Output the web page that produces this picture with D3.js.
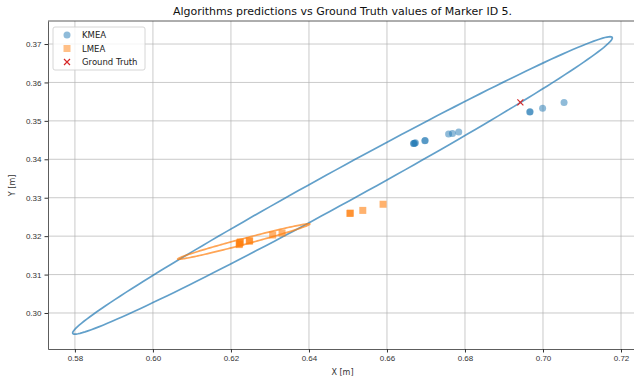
<!DOCTYPE html>
<html>
<head>
<meta charset="utf-8">
<script src="https://cdn.jsdelivr.net/npm/d3@7"></script>
<style>
  body { margin: 0; background: #fff; }
  svg { font-family: "DejaVu Sans", sans-serif; }
  .tick text { fill: #333; font-size: 8px; }
  .tick line { stroke: #333; }
</style>
</head>
<body>
<div id="chart"></div>
<script>
// KMEA predictions (x, y)
const kmeaX = [0.6966, 0.6967, 0.6999, 0.7054, 0.6668, 0.6669, 0.6671, 0.6673, 0.6697, 0.6698, 0.6758, 0.6768, 0.6784];
const kmeaY = [0.3523, 0.3524, 0.3533, 0.3548, 0.3441, 0.3441, 0.3442, 0.3443, 0.3448, 0.3449, 0.3466, 0.3467, 0.3471];
// LMEA predictions (x, y)
const lmeaX = [0.6505, 0.6506, 0.6538, 0.6590, 0.6307, 0.6331, 0.6222, 0.6223, 0.6224, 0.6221, 0.6247, 0.6248];
const lmeaY = [0.3259, 0.3260, 0.3267, 0.3283, 0.3203, 0.3208, 0.3180, 0.3183, 0.3185, 0.3178, 0.3187, 0.3188];
// ground truth
const truthX = [0.6942];
const truthY = [0.3548];
// confidence ellipses: center, half major axis, conjugate half axis (data units)
const ellipseNames = ["KMEA", "LMEA"];
const ellipseCenter = [[0.6486, 0.3332], [0.6233, 0.3186]];
const ellipseMajor = [[0.0686, 0.0387], [0.01695, 0.00455]];
const ellipseMinor = [[0.0089, 0], [0, 0.0008]];

const xTicks = [0.58, 0.60, 0.62, 0.64, 0.66, 0.68, 0.70, 0.72];
const yTicks = [0.30, 0.31, 0.32, 0.33, 0.34, 0.35, 0.36, 0.37];

const W = 634, H = 380;
const margin = { top: 21, right: -3, bottom: 31, left: 48 };
const width = W - margin.left - margin.right;
const height = H - margin.top - margin.bottom;

const svg = d3.select("#chart").append("svg")
    .attr("width", W).attr("height", H)
    .style("overflow", "hidden");

const g = svg.append("g").attr("transform", `translate(${margin.left},${margin.top})`);

const x = d3.scaleLinear().domain([0.5731, 0.7241]).range([0, width]);
const y = d3.scaleLinear().domain([0.29063, 0.37599]).range([height, 0]);

// grid
g.append("g").selectAll("line").data(xTicks).enter().append("line")
    .attr("x1", d => x(d)).attr("x2", d => x(d))
    .attr("y1", 0).attr("y2", height)
    .attr("stroke", "#b0b0b0").attr("stroke-opacity", 0.75).attr("stroke-width", 0.9);
g.append("g").selectAll("line").data(yTicks).enter().append("line")
    .attr("y1", d => y(d)).attr("y2", d => y(d))
    .attr("x1", 0).attr("x2", width)
    .attr("stroke", "#b0b0b0").attr("stroke-opacity", 0.75).attr("stroke-width", 0.9);

// axes
const xAxis = g.append("g").attr("transform", `translate(0,${height})`)
    .call(d3.axisBottom(x).tickValues(xTicks).tickFormat(d3.format(".2f"))
        .tickSizeInner(3.5).tickSizeOuter(0).tickPadding(3));
const yAxis = g.append("g")
    .call(d3.axisLeft(y).tickValues(yTicks).tickFormat(d3.format(".2f"))
        .tickSizeInner(3.5).tickSizeOuter(0).tickPadding(3));
[xAxis, yAxis].forEach(a => a.select(".domain").attr("stroke", "#333").attr("stroke-width", 0.8));
g.append("line").attr("x1", 0).attr("x2", width).attr("y1", 0).attr("y2", 0)
    .attr("stroke", "#333").attr("stroke-width", 0.8);

// ellipses
const ellColors = ["#1f77b4", "#ff7f0e"];
const line = d3.line().x(d => x(d[0])).y(d => y(d[1]));
ellipseNames.forEach((name, i) => {
    const c = ellipseCenter[i], M = ellipseMajor[i], N = ellipseMinor[i];
    const pts = d3.range(0, 361, 2).map(a => {
        const t = a * Math.PI / 180;
        return [c[0] + Math.cos(t) * M[0] + Math.sin(t) * N[0],
                c[1] + Math.cos(t) * M[1] + Math.sin(t) * N[1]];
    });
    g.append("path").attr("d", line(pts))
        .attr("fill", "none").attr("stroke", ellColors[i])
        .attr("stroke-opacity", 0.7).attr("stroke-width", 1.7);
});

// KMEA points
g.append("g").selectAll("circle").data(kmeaX).enter().append("circle")
    .attr("cx", d => x(d)).attr("cy", (d, i) => y(kmeaY[i]))
    .attr("r", 3.5).attr("fill", "#1f77b4").attr("fill-opacity", 0.5);

// LMEA points
g.append("g").selectAll("rect").data(lmeaX).enter().append("rect")
    .attr("x", d => x(d) - 3.5).attr("y", (d, i) => y(lmeaY[i]) - 3.5)
    .attr("width", 7).attr("height", 7).attr("fill", "#ff7f0e").attr("fill-opacity", 0.6);

// ground truth
const gt = g.append("g").selectAll("g").data(truthX).enter().append("g")
    .attr("transform", (d, i) => `translate(${x(d)},${y(truthY[i])})`);
gt.append("path").attr("d", "M-3,-3L3,3M-3,3L3,-3")
    .attr("stroke", "#d62728").attr("stroke-width", 1.2);

// title and labels
svg.append("text").attr("x", margin.left + x(0.6486)).attr("y", 15)
    .attr("text-anchor", "middle").attr("font-size", 11).attr("fill", "#111")
    .text("Algorithms predictions vs Ground Truth values of Marker ID 5.");
svg.append("text").attr("x", margin.left + x(0.6486)).attr("y", 375)
    .attr("text-anchor", "middle").attr("font-size", 8).attr("fill", "#333")
    .text("X [m]");
svg.append("text").attr("transform", `translate(15,${margin.top + y(0.3332)}) rotate(-90)`)
    .attr("text-anchor", "middle").attr("font-size", 8).attr("fill", "#333")
    .text("Y [m]");

// legend
const legend = g.append("g").attr("transform", "translate(5,6)");
legend.append("rect").attr("width", 92).attr("height", 43).attr("rx", 2)
    .attr("fill", "#fff").attr("fill-opacity", 0.8).attr("stroke", "#ccc").attr("stroke-width", 0.8);
const entries = ["KMEA", "LMEA", "Ground Truth"];
entries.forEach((name, i) => {
    const ly = 8 + i * 13.5;
    if (i === 0) legend.append("circle").attr("cx", 14).attr("cy", ly).attr("r", 3.5)
        .attr("fill", "#1f77b4").attr("fill-opacity", 0.5);
    if (i === 1) legend.append("rect").attr("x", 10.5).attr("y", ly - 3.5).attr("width", 7).attr("height", 7)
        .attr("fill", "#ff7f0e").attr("fill-opacity", 0.5);
    if (i === 2) legend.append("path").attr("transform", `translate(14,${ly})`)
        .attr("d", "M-3,-3L3,3M-3,3L3,-3").attr("stroke", "#d62728").attr("stroke-width", 1.2);
    legend.append("text").attr("x", 29).attr("y", ly + 3).attr("font-size", 8.5).attr("fill", "#222").text(name);
});
</script>
</body>
</html>
